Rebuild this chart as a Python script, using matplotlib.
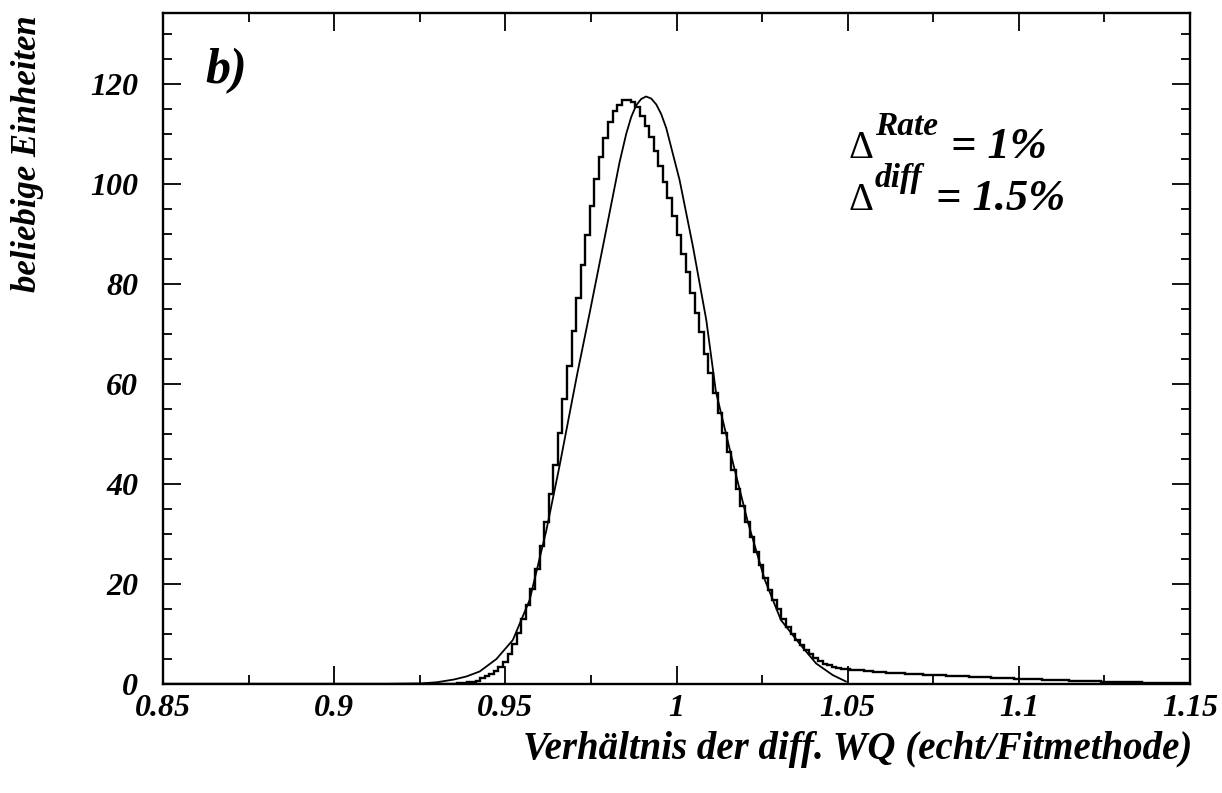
import numpy as np
import matplotlib
matplotlib.use("Agg")
import matplotlib.pyplot as plt
from matplotlib.ticker import MultipleLocator

# ---------------- data ----------------
hist_lo, hist_hi, n_bins = 0.8, 1.2, 300
first_bin = 99
counts = [
    0.03, 0.06, 0.1, 0.17, 0.25, 0.35, 0.5, 0.7,           # 99-106
    1.2, 1.6, 2.1, 2.7, 3.5, 4.5, 6.1, 8.1, 10.3, 13.1,     # 107-116
    15.8, 19.1, 23.0, 27.7, 32.5, 38.0, 43.9, 50.3, 56.9, 63.6,   # 117-126
    70.5, 77.1, 83.7, 89.8, 95.6, 100.9, 105.3, 109.1, 112.3, 114.5,  # 127-136
    115.8, 116.7, 116.8, 116.3, 115.3, 113.6, 111.5, 109.3, 106.5, 103.6,  # 137-146
    100.3, 97.1, 93.5, 89.8, 86.0, 82.3, 78.1, 74.1, 70.3, 66.0,  # 147-156
    62.1, 58.1, 54.1, 50.2, 46.4, 42.7, 39.1, 35.6, 32.5, 29.4,  # 157-166
    26.5, 23.8, 21.2, 18.9, 16.8, 15.0, 13.1, 11.5, 10.1, 8.9,   # 167-176
    7.8, 6.8, 6.0, 5.3, 4.7, 4.1, 3.8, 3.5, 3.3, 3.1, 3.0,      # 177-187
    2.9, 2.82, 2.74, 2.66, 2.58, 2.5, 2.43, 2.36, 2.3, 2.24,     # 188-197
    2.18, 2.12, 2.07, 2.02, 1.97, 1.92, 1.87, 1.83, 1.79, 1.75,  # 198-207
    1.71, 1.67, 1.63, 1.59, 1.55, 1.51, 1.47, 1.43, 1.39, 1.35,  # 208-217
    1.31, 1.27, 1.23, 1.19, 1.15, 1.11, 1.07, 1.04, 1.0, 0.97,   # 218-227
    0.94, 0.91, 0.88, 0.85, 0.82, 0.79, 0.76, 0.73, 0.7, 0.67,   # 228-237
    0.64, 0.61, 0.58, 0.55, 0.52, 0.5, 0.48, 0.45, 0.43, 0.4,    # 238-247
    0.38, 0.36, 0.34, 0.32, 0.3, 0.28, 0.26, 0.24, 0.22, 0.2,    # 248-257
    0.19, 0.18, 0.17, 0.16, 0.15,                                # 258-262
]

fit_x = [0.913, 0.925, 0.930, 0.935, 0.9386, 0.9425, 0.9474, 0.9522, 0.9571,
         0.9620, 0.9658, 0.9688, 0.9710, 0.9746, 0.9785, 0.9824, 0.98335,
         0.9853, 0.98677, 0.9882, 0.98968, 0.9911, 0.9926, 0.9941, 0.99552,
         0.9970, 1.0009, 1.0048, 1.0087, 1.0115, 1.0164, 1.0208, 1.0257,
         1.0305, 1.0359, 1.0408, 1.0456, 1.0495]
fit_y = [0.0, 0.1, 0.35, 0.9, 1.5, 2.5, 5.0, 8.8, 16.8,
         30.8, 43.5, 54.2, 62.0, 74.1, 87.5, 101.0, 104.3,
         110.0, 113.4, 115.7, 117.0, 117.5, 117.1, 115.9, 114.0,
         111.2, 100.8, 87.5, 72.8, 58.5, 44.5, 32.5, 21.0,
         12.8, 8.1, 4.1, 1.8, 0.5]

x_ticks = [0.85, 0.9, 0.95, 1.0, 1.05, 1.1, 1.15]
x_ticklabels = ["0.85", "0.9", "0.95", "1", "1.05", "1.1", "1.15"]
y_ticks = [0, 20, 40, 60, 80, 100, 120]
y_ticklabels = ["0", "20", "40", "60", "80", "100", "120"]

# ---------------- figure ----------------
W, H = 1222, 793
fig = plt.figure(figsize=(W / 100, H / 100), dpi=100)
ax = fig.add_axes([163 / W, 1 - 684 / H, (1190 - 163) / W, (684 - 13) / H])

FONT = "Liberation Serif"
bi = dict(family=FONT, weight="bold", style="italic")

edges = np.linspace(hist_lo, hist_hi, n_bins + 1)
full = np.zeros(n_bins)
full[first_bin:first_bin + len(counts)] = counts
ax.stairs(full, edges, color="black", lw=1.7)
ax.plot(fit_x, fit_y, color="black", lw=1.3)

ax.set_xlim(0.85, 1.15)
ax.set_ylim(0, 134.2)

ax.set_xticks(x_ticks)
ax.set_xticklabels(x_ticklabels)
ax.set_yticks(y_ticks)
ax.set_yticklabels(y_ticklabels)
ax.xaxis.set_minor_locator(MultipleLocator(0.025))
ax.yaxis.set_minor_locator(MultipleLocator(5))
ax.tick_params(which="both", direction="in", top=True, right=True, width=1.3, color="black")
ax.tick_params(which="major", length=13)
ax.tick_params(which="minor", length=6.5)
ax.tick_params(axis="x", which="major", pad=7)
ax.tick_params(axis="y", which="major", pad=18)
for lab in ax.get_xticklabels() + ax.get_yticklabels():
    lab.set_fontfamily(FONT)
    lab.set_fontweight("bold")
    lab.set_fontstyle("italic")
    lab.set_fontsize(23)
for sp in ax.spines.values():
    sp.set_linewidth(1.7)

fig.text(28 / W, 1 - 15 / H, "beliebige Einheiten", rotation=90, ha="center", va="top",
         fontsize=25, **bi)
fig.text(1192 / W, 1 - 749 / H, "Verhältnis der diff. WQ (echt/Fitmethode)", ha="right",
         va="center", fontsize=28, **bi)

ax.text(0.041, (684 - 71) / 671, "b)", transform=ax.transAxes, fontsize=36,
        ha="left", va="center", **bi)

# Delta annotations
def delta_line(x0, ybase, sup, rest, dx_rest):
    ax.text(x0, ybase, "Δ", transform=ax.transAxes, fontsize=28, family=FONT,
            ha="left", va="baseline")
    ax.text(x0 + 0.026, ybase + 0.034, sup, transform=ax.transAxes, fontsize=24,
            ha="left", va="baseline", **bi)
    ax.text(x0 + dx_rest, ybase, rest, transform=ax.transAxes,
            fontsize=32, ha="left", va="baseline", **bi)

x_delta = (848 - 163) / 1027
delta_line(x_delta, (684 - 158) / 671, "Rate", "= 1%", (951 - 848) / 1027)
delta_line(x_delta, (684 - 210) / 671, "diff", "= 1.5%", (936 - 848) / 1027)

fig.savefig("out.png", dpi=100)
